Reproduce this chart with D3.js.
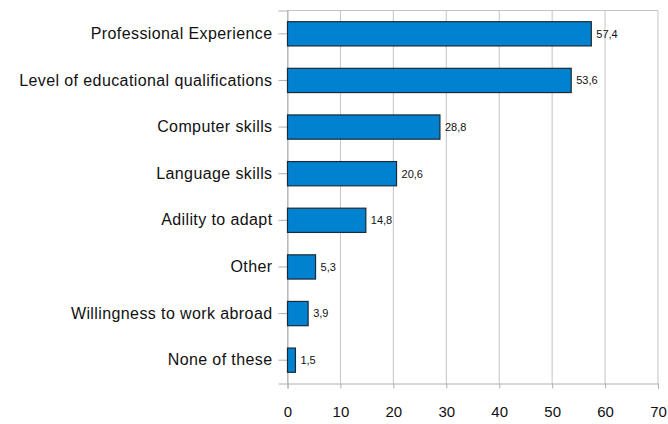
<!DOCTYPE html>
<html>
<head>
<meta charset="utf-8">
<script src="https://cdn.jsdelivr.net/npm/d3@7"></script>
<style>
  body { margin: 0; background: #fff; }
  svg { display: block; font-family: "Liberation Sans", Arial, sans-serif; }
</style>
</head>
<body>
<svg id="chart" width="668" height="424"></svg>
<script>
// Factors considered by employers (percent of respondents)
const categories = [
  "Professional Experience",
  "Level of educational qualifications",
  "Computer skills",
  "Language skills",
  "Adility to adapt",
  "Other",
  "Willingness to work abroad",
  "None of these"
];
const values = [57.4, 53.6, 28.8, 20.6, 14.8, 5.3, 3.9, 1.5];
const xTicks = [0, 10, 20, 30, 40, 50, 60, 70];

const svg = d3.select("#chart");
const plot = { left: 287.5, right: 658, top: 10.5, bottom: 383.5 };

const x = d3.scaleLinear().domain([0, 70]).range([plot.left, plot.right]);
const y = d3.scaleBand().domain(categories).range([plot.top, plot.bottom]).paddingInner(0.48).paddingOuter(0.24);

// vertical gridlines and top frame line
svg.append("g").selectAll("line").data(xTicks).join("line")
  .attr("x1", d => x(d)).attr("x2", d => x(d))
  .attr("y1", plot.top).attr("y2", plot.bottom)
  .attr("stroke", "#c4c4c4").attr("stroke-width", 1);
svg.append("line").attr("x1", plot.left).attr("x2", plot.right).attr("y1", plot.top).attr("y2", plot.top)
  .attr("stroke", "#c4c4c4");

// x axis
const xAxis = svg.append("g").attr("transform", `translate(0,${plot.bottom})`)
  .call(d3.axisBottom(x).tickValues(xTicks).tickSize(5).tickPadding(18).tickFormat(d3.format("d")));
xAxis.select(".domain").attr("stroke", "#b0b0b0");
xAxis.selectAll(".tick line").attr("stroke", "#b0b0b0");
xAxis.selectAll("text").attr("font-size", 15).attr("fill", "#111").attr("font-family", "Liberation Sans, Arial, sans-serif");

// y axis
const yAxis = svg.append("g").attr("transform", `translate(${plot.left},0)`)
  .call(d3.axisLeft(y).tickSize(9).tickPadding(6));
yAxis.select(".domain").attr("stroke", "#b0b0b0");
yAxis.selectAll(".tick line").attr("stroke", "#b0b0b0");
yAxis.selectAll("text").attr("font-size", 16).attr("letter-spacing", "0.4px")
  .attr("fill", "#111").attr("font-family", "Liberation Sans, Arial, sans-serif");

// bars
svg.append("g").selectAll("rect").data(values).join("rect")
  .attr("x", x(0))
  .attr("y", (d, i) => y(categories[i]))
  .attr("width", d => x(d) - x(0))
  .attr("height", y.bandwidth())
  .attr("fill", "#0082d0")
  .attr("stroke", "#1b2a38")
  .attr("stroke-width", 1.2);

// value labels
const fmt = v => d3.format(".1f")(v).replace(".", ",");
svg.append("g").selectAll("text").data(values).join("text")
  .attr("x", d => x(d) + 5)
  .attr("y", (d, i) => y(categories[i]) + y.bandwidth() / 2)
  .attr("dy", "0.35em")
  .attr("font-size", 11)
  .attr("fill", "#111")
  .text(fmt);
</script>
</body>
</html>
